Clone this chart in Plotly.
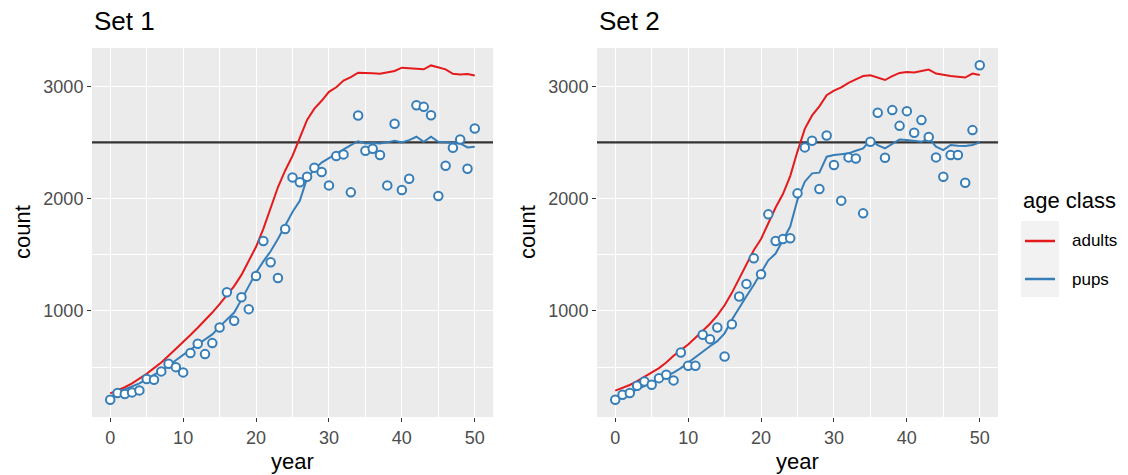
import plotly.graph_objects as go
from plotly.subplots import make_subplots

years = list(range(51))

# Set 1: simulated adult and pup trajectories plus observed pup counts
set1_adults = [265, 290, 320, 355, 395, 440, 490, 540, 600, 660,
               720, 785, 850, 915, 985, 1060, 1140, 1220, 1320, 1440,
               1570, 1730, 1920, 2100, 2250, 2380, 2540, 2700, 2800, 2870,
               2950, 2990, 3050, 3080, 3120, 3120, 3115, 3110, 3125, 3135,
               3165, 3160, 3160, 3150, 3185, 3170, 3150, 3110, 3105, 3108,
               3095]
set1_pups = [230, 275, 300, 325, 355, 390, 430, 470, 510, 560,
             610, 655, 700, 745, 790, 860, 920, 985, 1100, 1220,
             1340, 1440, 1530, 1640, 1760, 1880, 1980, 2180, 2260, 2320,
             2360, 2400, 2440, 2475, 2510, 2490, 2495, 2490, 2500, 2515,
             2500, 2520, 2550, 2505, 2550, 2505, 2500, 2495, 2490, 2455,
             2460]
set1_obs = [209, 268, 259, 274, 292, 393, 387, 461, 529, 499,
            452, 624, 707, 615, 713, 852, 1166, 911, 1121, 1015,
            1311, 1622, 1433, 1293, 1729, 2188, 2144, 2194, 2274, 2236,
            2117, 2378, 2393, 2055, 2739, 2425, 2443, 2387, 2117, 2665,
            2076, 2176, 2831, 2816, 2742, 2022, 2292, 2452, 2526, 2265,
            2624]

# Set 2
set2_adults = [290, 315, 340, 375, 415, 450, 490, 540, 600, 650,
               700, 760, 820, 885, 960, 1050, 1160, 1290, 1420, 1540,
               1640, 1780, 1920, 2040, 2200, 2420, 2620, 2740, 2820, 2920,
               2960, 2990, 3030, 3060, 3090, 3098, 3075, 3055, 3090, 3118,
               3127, 3121, 3135, 3148, 3112, 3100, 3090, 3085, 3077, 3112,
               3100]
set2_pups = [220, 250, 270, 300, 330, 360, 387, 420, 450, 490,
             540, 590, 640, 685, 730, 800, 920, 1030, 1130, 1230,
             1335, 1450, 1510, 1630, 1750, 1990, 2150, 2224, 2230, 2372,
             2387, 2395, 2402, 2425, 2446, 2520, 2476, 2446, 2490, 2526,
             2520, 2510, 2505, 2535, 2461, 2431, 2476, 2470, 2467, 2476,
             2500]
set2_obs = [209, 253, 268, 333, 372, 342, 401, 431, 381, 629,
            511, 511, 787, 748, 852, 594, 881, 1127, 1240, 1468,
            1326, 1859, 1622, 1640, 1646, 2046, 2455, 2514, 2084, 2561,
            2298, 1981, 2366, 2357, 1868, 2505, 2763, 2363, 2787, 2647,
            2778, 2585, 2698, 2547, 2366, 2194, 2387, 2387, 2141, 2609,
            3187]

panel_titles = ["Set 1", "Set 2"]
class_names = ["adults", "pups"]
target = 2500

x_range = [-2.5, 52.5]
x_ticks = [0, 10, 20, 30, 40, 50]
x_minor = [5, 15, 25, 35, 45]
y_range = [55, 3340]
y_ticks = [1000, 2000, 3000]
y_minor = [500, 1500, 2500]

RED = "#E41A1C"
BLUE = "#377EB8"
PANEL = "#EBEBEB"
FONT = "Liberation Sans, Arial, sans-serif"

W, H = 1128, 475
ML, MR, MT, MB = 92, 130, 48, 58
PW, PH = W - ML - MR, H - MT - MB

fig = make_subplots(rows=1, cols=2, horizontal_spacing=0.1148)

sets = [(set1_adults, set1_pups, set1_obs), (set2_adults, set2_pups, set2_obs)]
for col, (adults, pups, obs) in enumerate(sets, start=1):
    # reference level across the whole panel, beneath the series
    fig.add_trace(go.Scatter(x=x_range, y=[target, target], mode="lines",
                             line=dict(color="#333333", width=2.4),
                             showlegend=False, hoverinfo="skip"), row=1, col=col)
    fig.add_trace(go.Scatter(x=years, y=adults, mode="lines", name=class_names[0],
                             line=dict(color=RED, width=2), showlegend=False,
                             hoverinfo="skip"), row=1, col=col)
    fig.add_trace(go.Scatter(x=years, y=pups, mode="lines", name=class_names[1],
                             line=dict(color=BLUE, width=2), showlegend=False,
                             hoverinfo="skip"), row=1, col=col)
    fig.add_trace(go.Scatter(x=years, y=obs, mode="markers", showlegend=False,
                             marker=dict(symbol="circle", size=8.5, color="white",
                                         line=dict(color=BLUE, width=2))),
                  row=1, col=col)

axis_common = dict(
    showgrid=True, gridcolor="white", gridwidth=1.4, zeroline=False,
    ticks="outside", ticklen=4, tickwidth=1.2, tickcolor="#333333",
    tickfont=dict(family=FONT, size=18, color="#4D4D4D"),
    showline=False,
    minor=dict(showgrid=True, gridcolor="white", gridwidth=0.6, ticks=""),
)
for i in (1, 2):
    fig.update_xaxes(range=x_range, tickvals=x_ticks,
                     minor_tickvals=x_minor, row=1, col=i, **axis_common)
    fig.update_yaxes(range=y_range, tickvals=y_ticks,
                     minor_tickvals=y_minor, row=1, col=i, **axis_common)

fig.update_layout(
    width=W, height=H,
    margin=dict(l=ML, r=MR, t=MT, b=MB),
    paper_bgcolor="white", plot_bgcolor=PANEL,
    font=dict(family=FONT, color="black"),
    showlegend=False,
)

# paper coordinates are measured over the plotting area inside the margins
def px(x):
    return (x - ML) / PW

def py(y):
    return 1 - (y - MT) / PH

annotations = []
panel_left = [92, 597]
panel_center = [292.5, 797.5]
for k in range(2):
    annotations.append(dict(text=panel_titles[k], xref="paper", yref="paper",
                            x=px(panel_left[k]), y=py(21), xanchor="left",
                            yanchor="middle", showarrow=False,
                            font=dict(family=FONT, size=26, color="black")))
    annotations.append(dict(text="year", xref="paper", yref="paper",
                            x=px(panel_center[k]), y=py(461), xanchor="center",
                            yanchor="middle", showarrow=False,
                            font=dict(family=FONT, size=22, color="black")))
    annotations.append(dict(text="count", xref="paper", yref="paper",
                            x=px(panel_left[k] - 70), y=py(232), textangle=-90,
                            xanchor="center", yanchor="middle", showarrow=False,
                            font=dict(family=FONT, size=22, color="black")))

# legend drawn by hand: title, grey key box, coloured keys and labels
annotations.append(dict(text="age class", xref="paper", yref="paper",
                        x=px(1021), y=py(201), xanchor="left", yanchor="middle",
                        showarrow=False, font=dict(family=FONT, size=22, color="black")))
key_y = [241, 279]
key_colors = [RED, BLUE]
shapes = [dict(type="rect", xref="paper", yref="paper",
               x0=px(1021), x1=px(1059), y0=py(221), y1=py(297),
               fillcolor="#F2F2F2", line=dict(width=0), layer="below")]
for name, yk, c in zip(class_names, key_y, key_colors):
    shapes.append(dict(type="line", xref="paper", yref="paper",
                       x0=px(1025), x1=px(1055), y0=py(yk), y1=py(yk),
                       line=dict(color=c, width=2.5)))
    annotations.append(dict(text=name, xref="paper", yref="paper",
                            x=px(1070), y=py(yk), xanchor="left", yanchor="middle",
                            showarrow=False,
                            font=dict(family=FONT, size=17, color="black")))

fig.update_layout(annotations=list(fig.layout.annotations) + annotations,
                  shapes=list(fig.layout.shapes) + shapes)

fig.write_html("out.html")
